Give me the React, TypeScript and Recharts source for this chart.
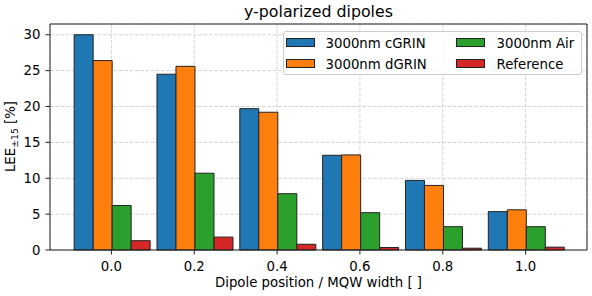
import React from 'react';
import { BarChart, Bar, XAxis, YAxis, CartesianGrid, Legend } from 'recharts';

const positions = ['0.0', '0.2', '0.4', '0.6', '0.8', '1.0'];
const cGRIN = [30.0, 24.5, 19.7, 13.2, 9.7, 5.35];
const dGRIN = [26.4, 25.6, 19.2, 13.25, 9.0, 5.6];
const air = [6.2, 10.7, 7.85, 5.2, 3.25, 3.25];
const reference = [1.3, 1.8, 0.8, 0.35, 0.25, 0.4];
const yTicks = [0, 5, 10, 15, 20, 25, 30];
const seriesKeys = ['cGRIN', 'dGRIN', 'air', 'reference'];
const seriesNames = ['3000nm cGRIN', '3000nm dGRIN', '3000nm Air', 'Reference'];
const colors = ['#1f77b4', '#ff7f0e', '#2ca02c', '#d62728'];
const title = 'y-polarized dipoles';
const xLabel = 'Dipole position / MQW width [ ]';

const FONT = '"DejaVu Sans", sans-serif';
const EDGE = '#222222';
const FS = 13.3;

const data = positions.map((p, i) => ({
  pos: p,
  cGRIN: cGRIN[i],
  dGRIN: dGRIN[i],
  air: air[i],
  reference: reference[i],
}));

const renderLegend = () => (
  <div
    style={{
      position: 'relative',
      width: 299,
      height: 44,
      border: '1px solid #cccccc',
      borderRadius: 3,
      background: 'rgba(255,255,255,0.8)',
      boxSizing: 'border-box',
      fontFamily: FONT,
      fontSize: FS,
      color: '#000',
    }}
  >
    {seriesNames.map((name, i) => {
      const col = Math.floor(i / 2);
      const row = i % 2;
      return (
        <React.Fragment key={name}>
          <div
            style={{
              position: 'absolute',
              left: col ? 171.5 : 2,
              top: row ? 26.5 : 5.5,
              width: 29,
              height: 9,
              background: colors[i],
              border: `1px solid ${EDGE}`,
              boxSizing: 'border-box',
            }}
          />
          <div
            style={{
              position: 'absolute',
              left: col ? 212.5 : 41.5,
              top: row ? 25 : 4,
              lineHeight: '15px',
              whiteSpace: 'nowrap',
            }}
          >
            {name}
          </div>
        </React.Fragment>
      );
    })}
  </div>
);

const YLabel = () => (
  <text
    x={15}
    y={136.5}
    transform="rotate(-90, 15, 136.5)"
    textAnchor="middle"
    fontFamily={FONT}
    fontSize={FS}
    fill="#000"
  >
    <tspan>LEE</tspan>
    <tspan fontSize={9.3} dy={3}>±15</tspan>
    <tspan dy={-3}> [%]</tspan>
  </text>
);

const axisLine = { stroke: EDGE, strokeWidth: 1 };
const tickLine = { stroke: EDGE, strokeWidth: 1 };

export default function App() {
  return (
    <div style={{ position: 'absolute', left: 0, top: 0, width: 592, height: 296, background: '#fff' }}>
      <BarChart
        width={592}
        height={296}
        data={data}
        margin={{ top: 0, right: 4, left: 0, bottom: 0 }}
        barCategoryGap="5%"
        barGap={0}
      >
        <CartesianGrid stroke="#d3d3d3" strokeDasharray="3.7 1.6" strokeWidth={1} />
        <XAxis
          dataKey="pos"
          height={46}
          padding={{ left: 20, right: 20 }}
          tickSize={4.5}
          tickMargin={7.5}
          axisLine={axisLine}
          tickLine={tickLine}
          tick={{ fill: '#000', fontSize: FS, fontFamily: FONT }}
          label={{ value: xLabel, position: 'insideBottom', offset: 9, fill: '#000', fontSize: FS, fontFamily: FONT }}
        />
        <XAxis
          xAxisId="top"
          orientation="top"
          dataKey="pos"
          height={24}
          padding={{ left: 20, right: 20 }}
          tick={false}
          tickLine={false}
          axisLine={axisLine}
          label={{ value: title, position: 'insideBottom', offset: 7, fill: '#000', fontSize: 15.8, fontFamily: FONT }}
        />
        <YAxis
          width={50}
          domain={[0, 31.5]}
          ticks={yTicks}
          tickSize={4.5}
          tickMargin={5}
          axisLine={axisLine}
          tickLine={tickLine}
          tick={{ fill: '#000', fontSize: FS, fontFamily: FONT }}
          label={{ content: () => <YLabel /> }}
        />
        <YAxis
          yAxisId="right"
          orientation="right"
          width={1}
          tick={false}
          tickLine={false}
          axisLine={axisLine}
          domain={[0, 31.5]}
        />
        {seriesKeys.map((k, i) => (
          <Bar
            key={k}
            dataKey={k}
            name={seriesNames[i]}
            fill={colors[i]}
            stroke={EDGE}
            strokeWidth={1}
            isAnimationActive={false}
          />
        ))}
        <Legend
          layout="horizontal"
          verticalAlign="middle"
          align="center"
          wrapperStyle={{ left: 283, top: 31, width: 299, height: 44 }}
          content={renderLegend}
        />
      </BarChart>
    </div>
  );
}
